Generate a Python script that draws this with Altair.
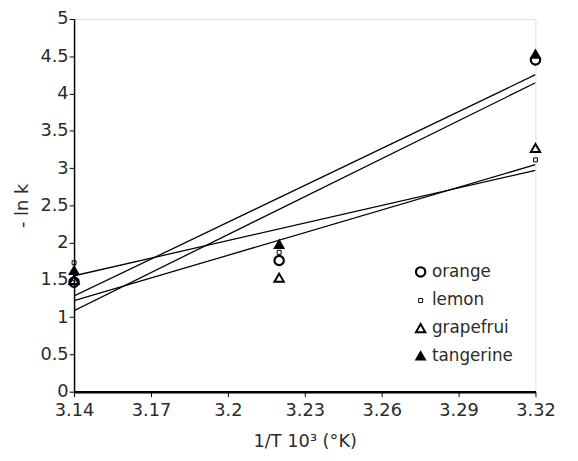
import altair as alt
import pandas as pd

fruits = ["orange", "lemon", "grapefrui", "tangerine"]
x_vals = [3.14, 3.22, 3.32]
orange = [1.47, 1.76, 4.45]
lemon = [1.73, 1.87, 3.11]
grapefruit = [1.50, 1.53, 3.27]
tangerine = [1.63, 1.98, 4.53]

rows = []
for name, ys in zip(fruits, [orange, lemon, grapefruit, tangerine]):
    for x, y in zip(x_vals, ys):
        rows.append({"fruit": name, "x": x, "y": y})
df = pd.DataFrame(rows)

FONT = "DejaVu Sans"
TXT = "#2b2b2b"
FS = 18

xscale = alt.Scale(domain=[3.14, 3.32], nice=False, zero=False)
yscale = alt.Scale(domain=[0, 5], nice=False)

xaxis = alt.Axis(values=[3.14, 3.17, 3.2, 3.23, 3.26, 3.29, 3.32], format=".2~f",
                 grid=False, domainColor="black", domainWidth=2.5, tickColor="black",
                 tickSize=5, tickWidth=1, labelFont=FONT, labelFontSize=FS, labelColor=TXT,
                 labelPadding=5, labelFlush=False, labelOverlap=False,
                 title="1/T 10³ (°K)", titleFont=FONT, titleFontSize=FS,
                 titleFontWeight="normal", titleColor=TXT, titlePadding=14)
yaxis = alt.Axis(values=[0, 0.5, 1, 1.5, 2, 2.5, 3, 3.5, 4, 4.5, 5], format="~g",
                 grid=False, domainColor="black", domainWidth=1.5, tickColor="black",
                 tickSize=5, tickWidth=1, labelFont=FONT, labelFontSize=FS, labelColor=TXT,
                 labelPadding=1, labelFlush=False, labelOverlap=False,
                 title="- ln k", titleFont=FONT, titleFontSize=FS,
                 titleFontWeight="normal", titleColor=TXT, titlePadding=9)

base = alt.Chart(df)

lines = base.transform_regression("x", "y", groupby=["fruit"], extent=[3.14, 3.32]).mark_line(
    color="black", strokeWidth=1.3, clip=True
).encode(
    x=alt.X("x:Q", scale=xscale, axis=xaxis),
    y=alt.Y("y:Q", scale=yscale, axis=yaxis),
    detail="fruit:N",
)

legend = alt.Legend(title=None, orient="none", legendX=341, legendY=248, labelFont=FONT,
                    labelFontSize=17, labelColor=TXT, rowPadding=10, symbolOffset=2,
                    labelOffset=3, symbolStrokeColor="black")

points = base.mark_point(opacity=1).encode(
    x=alt.X("x:Q", scale=xscale, axis=xaxis),
    y=alt.Y("y:Q", scale=yscale, axis=yaxis),
    shape=alt.Shape("fruit:N", scale=alt.Scale(domain=fruits,
                    range=["circle", "square", "triangle-up", "triangle-up"]), legend=legend),
    fill=alt.Fill("fruit:N", scale=alt.Scale(domain=fruits,
                  range=["transparent", "transparent", "transparent", "black"]), legend=legend),
    stroke=alt.Stroke("fruit:N", scale=alt.Scale(domain=fruits,
                      range=["black", "black", "black", "black"]), legend=legend),
    size=alt.Size("fruit:N", scale=alt.Scale(type="ordinal", domain=fruits,
                  range=[90, 16, 90, 90]), legend=legend),
    strokeWidth=alt.StrokeWidth("fruit:N", scale=alt.Scale(type="ordinal", domain=fruits,
                                range=[2.2, 1, 2, 1.5]), legend=legend),
)

chart = alt.layer(lines, points).properties(
    width=468, height=378,
    autosize=alt.AutoSizeParams(type="none"),
    padding={"left": 67, "top": 8, "right": 35, "bottom": 59},
).configure_view(stroke=None).configure(background="white")

chart.save("out.html", embed_options={"renderer": "svg", "actions": False})
